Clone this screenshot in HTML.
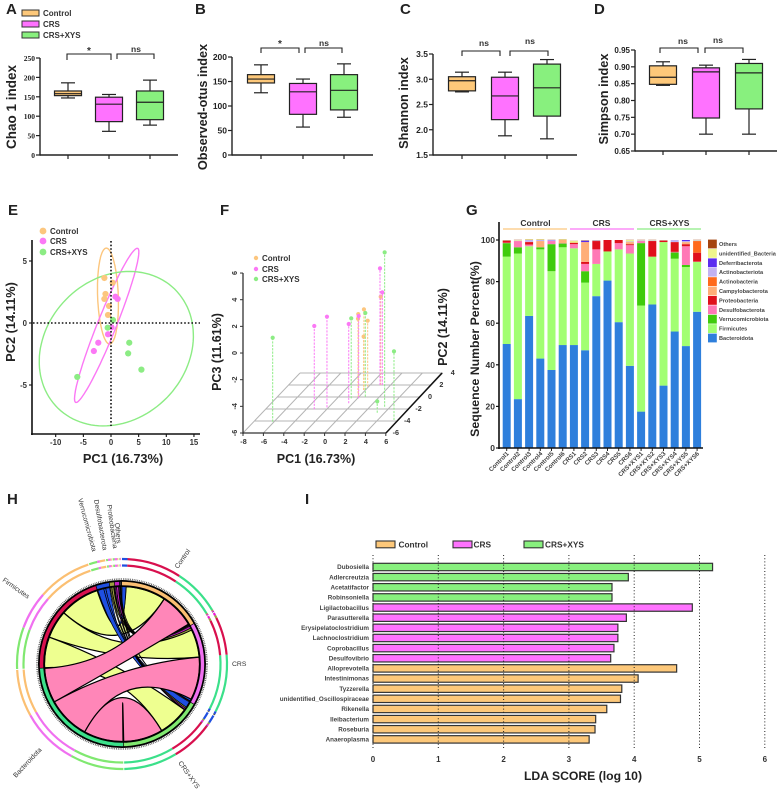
<!DOCTYPE html>
<html lang="en">
<head>
<meta charset="utf-8">
<title>Gut microbiome figure</title>
<style>
html,body{margin:0;padding:0;background:#fff;width:778px;height:791px;overflow:hidden}
svg{display:block;filter:blur(.35px)}
text{font-family:"Liberation Sans",sans-serif;font-weight:bold;fill:#222}
</style>
</head>
<body>
<svg id="fig" xmlns="http://www.w3.org/2000/svg" width="778" height="791" viewBox="0 0 778 791"></svg>
<script>
// ---------- box plot data [min, q1, median, q3, max] ----------
const boxGroups = ['Control', 'CRS', 'CRS+XYS'];
const chaoValues = [[147,153,158,165,186],[61,86,131,149,156],[77,91,136,165,193]];
const otusValues = [[127,147,155,164,184],[57,83,129,146,155],[77,92,132,164,186]];
const shannonValues = [[2.75,2.77,2.97,3.05,3.14],[1.88,2.2,2.67,3.04,3.14],[1.82,2.27,2.83,3.3,3.39]];
const simpsonValues = [[0.845,0.848,0.869,0.903,0.915],[0.70,0.748,0.885,0.897,0.905],[0.70,0.775,0.882,0.91,0.922]];
const chaoTicks = [0,50,100,150,200,250];
const otusTicks = [0,50,100,150,200];
const shannonTicks = ['1.5','2.0','2.5','3.0','3.5'];
const simpsonTicks = ['0.65','0.70','0.75','0.80','0.85','0.90','0.95'];

// ---------- PCA (PC1, PC2) ----------
const pcaControl = [[-1.2,3.63],[0.3,3.25],[-1,2.34],[-1.2,1.94],[-0.36,1.37],[-0.54,0.65]];
const pcaCRS = [[0.8,2.12],[1.2,1.94],[0.1,-0.35],[-0.54,-0.91],[-2.3,-1.59],[-3.1,-2.26]];
const pcaXYS = [[0.36,0.24],[-0.6,-0.38],[3.3,-1.59],[3.1,-2.45],[5.5,-3.76],[-6.1,-4.35]];
// confidence ellipses: centre x, centre y, axis-a dx, dy, axis-b dx, dy (data units)
const ellipseControl = [-0.55,2.17,-0.3,3.87,1.87,0];
const ellipseCRS = [-0.78,-0.19,5.6,6.21,1.57,-0.28];
const ellipseXYS = [0.96,-2.07,13.9,0.6,1.0,6.2];

// ---------- 3D PCA (PC1, PC2, PC3) ----------
const pca3dControl = [[-0.08,0.05,0.2],[-0.41,0.6,-0.4],[-0.15,1.17,0.05],[-0.09,1.72,-1.05],[-0.18,1.17,-2],[1.03,2,0.62]];
const pca3dCRS = [[-3.22,-2.05,0.25],[-2.16,-1.72,0.8],[-0.4,-1.05,-0.05],[0.11,-0.22,0.17],[0.96,2,2.75],[1.19,2,0.95]];
const pca3dXYS = [[-6.14,-4.12,0.3],[-0.62,-0.22,0],[0.61,0.05,0.28],[3.44,-1.62,5.58],[5.59,-3.83,-0.85],[3.27,-2.62,-5.15]];

// ---------- stacked bars ----------
const sampleNames = ['Control1','Control2','Control3','Control4','Control5','Control6','CRS1','CRS2','CRS3','CRS4','CRS5','CRS6','CRS+XYS1','CRS+XYS2','CRS+XYS3','CRS+XYS4','CRS+XYS5','CRS+XYS6'];
const bacteroidota = [50,23.5,63.5,43,37.5,49.5,49.5,47,73,80.5,60.5,39.5,17.5,69,30,56,49,65.5];
const firmicutes = [42,70,33.5,52.5,47.5,47,46.5,32.5,15.5,14,35,54,51,23,69,35,38,24];
const verrucomicrobiota = [6.5,3,0,1,13,1.8,0,5.5,0,0,0,0,30,0,0,3,1,0];
const desulfobacterota = [0.2,3,0.8,0,1.5,0.2,2,3.5,7,0,3,4,1,0,0,0.3,9,0.1];
const proteobacteria = [1,0,1.2,0,0,0,0.7,1,4,5.5,1.5,0.5,0,7.5,0.7,4.7,1,4.3];
const campylobacterota = [0,0,0,3,0,1.5,0,9.5,0,0,0,1,0,0,0,0,1,0];
const actinobacteria = [0,0,0.1,0,0,0,0,0,0,0,0,0,0,0,0,0,0,5.6];
const actinobacteriota = [0.1,0.2,0.9,0.5,0.4,0,0,0,0.3,0,0,0.3,0.3,0.3,0.1,1,0.5,0.3];
const deferribacterota = [0,0,0,0,0.1,0,0,0.7,0,0,0,0,0,0,0,0,0.5,0];
const unidentifiedBacteria = [0.1,0.3,0.3,0.3,0,0.3,0.8,0.2,0.1,0,0,0.7,0.2,0.2,0.1,0,0,0.2];
const othersTaxa = [0.1,0.1,0.1,0.1,0.1,0.1,0.1,0.1,0.1,0,0,0.1,0.1,0.1,0.1,0,0,0.1];
const stackNames = ['Bacteroidota','Firmicutes','Verrucomicrobiota','Desulfobacterota','Proteobacteria','Campylobacterota','Actinobacteria','Actinobacteriota','Deferribacterota','unidentified_Bacteria','Others'];
const stackSeries = [bacteroidota,firmicutes,verrucomicrobiota,desulfobacterota,proteobacteria,campylobacterota,actinobacteria,actinobacteriota,deferribacterota,unidentifiedBacteria,othersTaxa];
const stackColors = ['#2e7fdc','#a2ff72','#3fcb0c','#ff78b6','#e0101c','#ffae78','#ff6a1c','#c2b2f2','#5a2cf0','#eef58c','#a5440f'];
const percentTicks = [0,20,40,60,80,100];

// ---------- chord ----------
const chordGroups = ['Control','CRS','CRS+XYS'];
const chordTaxa = ['Bacteroidota','Firmicutes','Verrucomicrobiota','Desulfobacterota','Proteobacteria','Others'];
const flowControl = [26,30,3,0.6,0.6,0.2];
const flowCRS = [32,21,1.5,1.5,1.5,0.5];
const flowXYS = [29.5,23,4.5,1,1,0.3];

// ---------- LDA ----------
const ldaNames = ['Dubosiella','Adlercreutzia','Acetatifactor','Robinsoniella','Ligilactobacillus','Parasutterella','Erysipelatoclostridium','Lachnoclostridium','Coprobacillus','Desulfovibrio','Alloprevotella','Intestinimonas','Tyzzerella','unidentified_Oscillospiraceae','Rikenella','Ileibacterium','Roseburia','Anaeroplasma'];
const ldaScores = [5.2,3.91,3.66,3.66,4.89,3.88,3.75,3.75,3.69,3.64,4.65,4.06,3.81,3.79,3.58,3.41,3.4,3.31];
const ldaGroupIndex = [2,2,2,2,1,1,1,1,1,1,0,0,0,0,0,0,0,0];
const ldaTicks = [0,1,2,3,4,5,6];

// ---------- helpers ----------
const COL = ['#fdc87a','#ff72ff','#88f07e'];
const DOT = ['#fcc67e','#fb78f5','#8cec84'];
const svg = document.getElementById('fig');
function mk(parent, tag, attrs, name, text) {
  const e = document.createElementNS('http://www.w3.org/2000/svg', tag);
  for (const k in attrs) e.setAttribute(k, attrs[k]);
  
  
  if (text !== undefined) e.textContent = text;
  parent.appendChild(e);
  return e;
}
function panel(name) { return mk(svg, 'g', {}, name); }
function line(p, x1, y1, x2, y2, stroke, w, name, dash) {
  const a = {x1, y1, x2, y2, stroke, 'stroke-width': w};
  if (dash) a['stroke-dasharray'] = dash;
  return mk(p, 'line', a, name);
}
function txt(p, x, y, s, size, name, anchor, rot, fill, weight) {
  const a = {x, y, 'font-size': size, 'text-anchor': anchor || 'start'};
  if (rot) a.transform = 'rotate(' + rot + ' ' + x + ' ' + y + ')';
  if (fill) a.style = 'fill:' + fill + (weight ? ';font-weight:' + weight : '');
  else if (weight) a.style = 'font-weight:' + weight;
  return mk(p, 'text', a, name, s);
}
const LETTERS = [['A',6,14],['B',195,14],['C',400,14],['D',594,14],['E',8,215],['F',220,215],['G',466,215],['H',7,504],['I',305,504]];
const lg = panel('panel-letters');
LETTERS.forEach(l => txt(lg, l[1], l[2], l[0], 15, 'panel-letter-' + l[0].toLowerCase()));

// ---------- box plots ----------
function boxPanel(c) {
  const g = panel(c.name);
  const y = v => c.bottom - (v - c.min) / (c.max - c.min) * (c.bottom - c.top);
  line(g, c.left, c.top, c.left, c.bottom + .7, '#222', 1.4, 'y-axis');
  line(g, c.left, c.bottom, c.right, c.bottom, '#222', 1.4, 'x-axis');
  c.ticks.forEach(t => {
    const v = parseFloat(t);
    line(g, c.left - 4, y(v), c.left, y(v), '#222', 1.2, 'y-tick');
    const lab = txt(g, c.left - 5, y(v) + 3, String(t), c.tickSize, 'y-tick-label', 'end');
    if (c.serif) lab.style.fontFamily = '"Liberation Serif",serif';
  });
  c.centers.forEach((cx, i) => {
    line(g, cx, c.bottom, cx, c.bottom + 4, '#222', 1.2, 'x-tick');
    const d = c.data[i];
    line(g, cx, y(d[0]), cx, y(d[4]), '#222', 1.2, 'whisker-' + boxGroups[i]);
    line(g, cx - 7, y(d[0]), cx + 7, y(d[0]), '#222', 1.2, 'whisker-cap-low');
    line(g, cx - 7, y(d[4]), cx + 7, y(d[4]), '#222', 1.2, 'whisker-cap-high');
    mk(g, 'rect', {x: cx - 13.5, y: y(d[3]), width: 27, height: y(d[1]) - y(d[3]), fill: COL[i], stroke: '#222', 'stroke-width': 1.2}, 'box-' + boxGroups[i]);
    line(g, cx - 13.5, y(d[2]), cx + 13.5, y(d[2]), '#222', 1.2, 'median-' + boxGroups[i]);
  });
  c.brackets.forEach(b => {
    mk(g, 'polyline', {points: b[0] + ',' + b[3] + ' ' + b[0] + ',' + b[2] + ' ' + b[1] + ',' + b[2] + ' ' + b[1] + ',' + b[3], fill: 'none', stroke: '#222', 'stroke-width': 1.1}, 'significance-bracket');
    txt(g, b[4], b[5], b[6], b[6] === '*' ? 10 : 8.5, 'significance-label', 'middle', 0, '#333', 'bold');
  });
  txt(g, c.titleX, c.titleY, c.title, c.titleSize, 'y-axis-title', 'middle', -90);
}
boxPanel({name:'panel-a-chao1', left:40, right:178, top:58, bottom:155, min:0, max:250, ticks:chaoTicks, tickSize:7.5, serif:true, centers:[68,109,150], data:chaoValues,
  brackets:[[67,111,54,60,89,54,'*'],[117,154,54,59,136,52,'ns']], title:'Chao 1 index', titleX:16, titleY:107, titleSize:13.5});
boxPanel({name:'panel-b-observed-otus', left:232, right:373, top:57, bottom:155, min:0, max:200, ticks:otusTicks, tickSize:8.5, centers:[261,303,344], data:otusValues,
  brackets:[[261,299,48,53,280,47,'*'],[305,342,48,53,324,46,'ns']], title:'Observed-otus index', titleX:207, titleY:107, titleSize:12.7});
boxPanel({name:'panel-c-shannon', left:433, right:577, top:54, bottom:155, min:1.5, max:3.5, ticks:shannonTicks, tickSize:8.5, centers:[462,505,547], data:shannonValues,
  brackets:[[462,500,51,56,484,46,'ns'],[510,548,51,56,530,44,'ns']], title:'Shannon index', titleX:408, titleY:103, titleSize:12.8});
boxPanel({name:'panel-d-simpson', left:635, right:777, top:50, bottom:151, min:0.65, max:0.95, ticks:simpsonTicks, tickSize:8, centers:[663,706,749], data:simpsonValues,
  brackets:[[660,698,48,53,683,44,'ns'],[705,743,48,53,718,43,'ns']], title:'Simpson index', titleX:608, titleY:99, titleSize:12.8});

// Panel A legend
(function () {
  const g = panel('legend-box-plots');
  const ys = [13, 24, 35];
  boxGroups.forEach((n, i) => {
    mk(g, 'rect', {x: 22, y: ys[i] - 3, width: 17, height: 6, fill: COL[i], stroke: '#333', 'stroke-width': 1}, 'legend-swatch-' + n);
    txt(g, 43, ys[i] + 3, n, 8, 'legend-entry-' + n, 'start', 0, '#333');
  });
})();

// ---------- Panel E ----------
(function () {
  const g = panel('panel-e-pca');
  const X = v => 111 + v * 5.53, Y = v => 323 - v * 12.4;
  [ellipseControl, ellipseCRS, ellipseXYS].forEach((e, i) => {
    const pts = [];
    for (let k = 0; k <= 120; k++) {
      const t = k / 120 * 2 * Math.PI;
      pts.push(X(e[0] + e[2] * Math.cos(t) + e[4] * Math.sin(t)).toFixed(1) + ',' + Y(e[1] + e[3] * Math.cos(t) + e[5] * Math.sin(t)).toFixed(1));
    }
    mk(g, 'polygon', {points: pts.join(' '), fill: 'none', stroke: DOT[i], 'stroke-width': 1.4}, 'ellipse-' + boxGroups[i]);
  });
  [pcaControl, pcaCRS, pcaXYS].forEach((s, i) => s.forEach(p => {
    mk(g, 'circle', {cx: X(p[0]), cy: Y(p[1]), r: 3.1, fill: DOT[i]}, 'point-' + boxGroups[i]);
  }));
  line(g, 33, 323, 200, 323, '#111', 1.6, 'zero-line-horizontal', '1.6 2');
  line(g, 111, 241, 111, 426, '#111', 1.6, 'zero-line-vertical', '1.6 2');
  line(g, 32, 240, 32, 435, '#111', 1.6, 'y-axis');
  line(g, 31, 434, 200, 434, '#111', 1.6, 'x-axis');
  [-10,-5,0,5,10,15].forEach(v => {
    line(g, X(v), 434, X(v), 437, '#111', 1.1, 'x-tick');
    txt(g, X(v), 445, String(v), 7.8, 'x-tick-label', 'middle', 0, '#333');
  });
  [-5,0,5].forEach(v => {
    line(g, 29, Y(v), 32, Y(v), '#111', 1.1, 'y-tick');
    txt(g, 27, Y(v) + 3, String(v), 7.8, 'y-tick-label', 'end', 0, '#333');
  });
  txt(g, 123, 463, 'PC1 (16.73%)', 12.8, 'x-axis-title', 'middle');
  txt(g, 15, 322, 'PC2 (14.11%)', 12.8, 'y-axis-title', 'middle', -90);
  [231, 241, 252].forEach((y, i) => {
    mk(g, 'circle', {cx: 43, cy: y, r: 3.4, fill: DOT[i]}, 'legend-dot-' + boxGroups[i]);
    txt(g, 50, y + 3, boxGroups[i], 8, 'legend-entry-' + boxGroups[i], 'start', 0, '#333');
  });
})();

// ---------- Panel F ----------
(function () {
  const g = panel('panel-f-pca-3d');
  const PX = (x, y2) => 243 + (x + 8) * 10.2 + (y2 + 6) * 5.7;
  const PY = (y2, z) => 433 - (z + 6) * 13.33 - (y2 + 6) * 6;
  for (let x = -8; x <= 6; x += 2) line(g, PX(x, -6), PY(-6, -6), PX(x, 4), PY(4, -6), '#b4b4b4', 1, 'floor-grid-line');
  for (let d = -6; d <= 4; d += 2) line(g, PX(-8, d), PY(d, -6), PX(6, d), PY(d, -6), '#b4b4b4', 1, 'floor-grid-line');
  [pca3dControl, pca3dCRS, pca3dXYS].forEach((s, i) => s.forEach(p => {
    line(g, PX(p[0], p[1]), PY(p[1], -6), PX(p[0], p[1]), PY(p[1], p[2]), DOT[i], 1, 'stem-' + boxGroups[i], '2.2 1.2');
    mk(g, 'circle', {cx: PX(p[0], p[1]), cy: PY(p[1], p[2]), r: 2.1, fill: DOT[i]}, 'point-' + boxGroups[i]);
  }));
  line(g, 243, 273, 243, 434, '#333', 1.3, 'pc3-axis');
  line(g, 243, 433, 386, 433, '#333', 1.3, 'pc1-axis');
  line(g, 386, 433, 442, 373, '#111', 1.5, 'pc2-axis');
  for (let z = -6; z <= 6; z += 2) {
    line(g, 240, PY(-6, z), 243, PY(-6, z), '#333', 1, 'pc3-tick');
    txt(g, 237, PY(-6, z), String(z), 7.2, 'pc3-tick-label', 'middle', -90, '#333');
  }
  for (let x = -8; x <= 6; x += 2) {
    line(g, PX(x, -6), 433, PX(x, -6), 436, '#333', 1, 'pc1-tick');
    txt(g, PX(x, -6) + .5, 444, String(x), 7.2, 'pc1-tick-label', 'middle', 0, '#333');
  }
  for (let d = -6; d <= 4; d += 2) {
    txt(g, PX(6, d) + 10, PY(d, -6) + 2, String(d), 7.2, 'pc2-tick-label', 'middle', 0, '#333');
  }
  txt(g, 316, 463, 'PC1 (16.73%)', 12.5, 'pc1-axis-title', 'middle');
  txt(g, 221, 352, 'PC3 (11.61%)', 12.5, 'pc3-axis-title', 'middle', -90);
  txt(g, 447, 327, 'PC2 (14.11%)', 12.5, 'pc2-axis-title', 'middle', -90);
  [258, 269, 279].forEach((y, i) => {
    mk(g, 'circle', {cx: 256, cy: y, r: 2.2, fill: DOT[i]}, 'legend-dot-' + boxGroups[i]);
    txt(g, 262, y + 3, boxGroups[i], 8, 'legend-entry-' + boxGroups[i], 'start', 0, '#333');
  });
})();

// ---------- Panel G ----------
(function () {
  const g = panel('panel-g-stacked-bars');
  const Y = v => 448 - v * 2.08;
  const X = i => 506.7 + i * 11.2;
  sampleNames.forEach((n, i) => {
    let acc = 0;
    stackSeries.forEach((s, k) => {
      if (s[i] <= 0) return;
      mk(g, 'rect', {x: X(i) - 4, y: Y(acc + s[i]), width: 8, height: s[i] * 2.08, fill: stackColors[k]}, 'bar-' + n + '-' + stackNames[k]);
      acc += s[i];
    });
    line(g, X(i), 448, X(i), 451, '#222', 1, 'x-tick');
    txt(g, X(i) + 2.5, 454, n, 6.2, 'x-tick-label', 'end', -45, '#444');
  });
  line(g, 499, 222, 499, 449, '#111', 1.6, 'y-axis');
  line(g, 498, 448, 703, 448, '#111', 1.6, 'x-axis');
  percentTicks.forEach(v => {
    line(g, 496, Y(v), 499, Y(v), '#111', 1.2, 'y-tick');
    txt(g, 495, Y(v) + 3, String(v), 8.5, 'y-tick-label', 'end', 0, '#333');
  });
  txt(g, 479, 349, 'Sequence Number Percent(%)', 12.3, 'y-axis-title', 'middle', -90);
  [[503,567,535.5,'Control'],[570,634,601.5,'CRS'],[637,701,669.5,'CRS+XYS']].forEach((b, i) => {
    line(g, b[0], 229, b[1], 229, DOT[i], 1.3, 'group-line-' + b[3]);
    txt(g, b[2], 226, b[3], 8.5, 'group-label-' + b[3], 'middle', 0, '#333');
  });
  stackNames.slice().reverse().forEach((n, k) => {
    const idx = stackNames.length - 1 - k;
    const y = 244 + k * 9.4;
    mk(g, 'rect', {x: 708, y: y - 4.4, width: 8.8, height: 8.8, fill: stackColors[idx]}, 'legend-swatch-' + n);
    txt(g, 719, y + 2, n, 5.6, 'legend-entry-' + n, 'start', 0, '#444');
  });
})();

// ---------- Panel H ----------
(function () {
  const g = panel('panel-h-chord');
  const CX = 122, CY = 664;
  const P = (a, r) => { const t = a * Math.PI / 180; return [CX + r * Math.sin(t), CY - r * Math.cos(t)]; };
  const flows = [flowControl, flowCRS, flowXYS];
  // within-sector drawing order of taxa for each group
  const groupOrder = [[2,1,0,3,4,5],[4,3,1,0,2,5],[2,3,4,5,1,0]];
  const taxaColor = ['#3be08a','#d8104e','#1f4fe0','#9aa040','#f018d8','#444'];
  const ribbonColor = ['#ff86b8','#eeff90','#1f4fe0','#9aa040','#c020c0','#333'];
  const groupColor = ['#fbbf72','#f070f0','#80e870'];
  const rowSums = flows.map(f => f.reduce((a, b) => a + b, 0));
  const colSums = chordTaxa.map((_, j) => flows.reduce((a, f) => a + f[j], 0));
  const total = rowSums.reduce((a, b) => a + b, 0);
  const gap = 0.5, scale = (360 - gap * 9) / (2 * total);
  let ang = 0;
  const groupSpan = [], flowSpanG = [[],[],[]], flowSpanT = [[],[],[]], taxaSpan = [];
  rowSums.forEach((s, i) => {
    const a0 = ang;
    groupOrder[i].forEach(j => {
      const w = flows[i][j] * scale;
      flowSpanG[i][j] = [ang, ang + w];
      ang += w;
    });
    groupSpan.push([a0, ang]);
    ang += gap;
  });
  colSums.forEach((s, j) => {
    const a0 = ang;
    [2,1,0].forEach(i => {
      const w = flows[i][j] * scale;
      flowSpanT[i][j] = [ang, ang + w];
      ang += w;
    });
    taxaSpan.push([a0, ang]);
    ang += gap;
  });
  const arc = (a0, a1, r) => {
    const p0 = P(a0, r), p1 = P(a1, r);
    return 'M' + p0[0].toFixed(2) + ' ' + p0[1].toFixed(2) + 'A' + r + ' ' + r + ' 0 ' + (a1 - a0 > 180 ? 1 : 0) + ' 1 ' + p1[0].toFixed(2) + ' ' + p1[1].toFixed(2);
  };
  function ribbon(i, j) {
    const a = flowSpanG[i][j], b = flowSpanT[i][j], R = 77.5;
    const p0 = P(a[0], R), p1 = P(a[1], R), p2 = P(b[0], R), p3 = P(b[1], R);
    const d = 'M' + p0.join(' ') + 'A' + R + ' ' + R + ' 0 0 1 ' + p1.join(' ') +
      'Q' + CX + ' ' + CY + ' ' + p2.join(' ') + 'A' + R + ' ' + R + ' 0 0 1 ' + p3.join(' ') +
      'Q' + CX + ' ' + CY + ' ' + p0.join(' ') + 'Z';
    mk(g, 'path', {d: d, fill: ribbonColor[j], stroke: '#000', 'stroke-width': j < 2 ? 1.2 : .7}, 'chord-' + chordGroups[i] + '-' + chordTaxa[j]);
  }
  [1, 2, 3, 4, 5].forEach(j => [0,1,2].forEach(i => ribbon(i, j)));
  [0,1,2].forEach(i => ribbon(i, 0));
  // tick texture + black border
  mk(g, 'circle', {cx: CX, cy: CY, r: 85, fill: 'none', stroke: '#555', 'stroke-width': 1.6, 'stroke-dasharray': '.8 1'}, 'chord-tick-ring');
  mk(g, 'circle', {cx: CX, cy: CY, r: 80.5, fill: 'none', stroke: '#000', 'stroke-width': 7}, 'chord-black-ring');
  groupSpan.forEach((s, i) => mk(g, 'path', {d: arc(s[0], s[1], 80.5), fill: 'none', stroke: groupColor[i], 'stroke-width': 3.4}, 'inner-arc-' + chordGroups[i]));
  taxaSpan.forEach((s, j) => mk(g, 'path', {d: arc(s[0], s[1], 80.5), fill: 'none', stroke: j > 1 ? ribbonColor[j] : taxaColor[j], 'stroke-width': 3.4}, 'inner-arc-' + chordTaxa[j]));
  // double outer rings
  [98.5, 105].forEach(r => {
    flowSpanG.forEach((row, i) => row.forEach((sp, j) => {
      mk(g, 'path', {d: arc(sp[0], sp[1], r), fill: 'none', stroke: taxaColor[j], 'stroke-width': 2.2}, 'outer-arc-' + chordGroups[i] + '-' + chordTaxa[j]);
    }));
    flowSpanT.forEach((row, i) => row.forEach((sp, j) => {
      mk(g, 'path', {d: arc(sp[0], sp[1], r), fill: 'none', stroke: groupColor[i], 'stroke-width': 2.2}, 'outer-arc-' + chordTaxa[j] + '-' + chordGroups[i]);
    }));
  });
  const labs = [
    ['Control',178,569,-55,'start'],['CRS',232,666,0,'start'],['CRS+XYS',178,763,55,'start'],
    ['Bacteroidota',16,778,-47,'start'],['Firmicutes',2,581,35,'start'],
    ['Verrucomicrobiota',78,499,75,'start'],['Desulfobacterota',94,500,80,'start'],
    ['Proteobacteria',107,505,82,'start'],['Others',115,523,85,'start']
  ];
  labs.forEach(l => txt(g, l[1], l[2], l[0], 6.8, 'chord-label-' + l[0], l[4], l[3], '#333', 'normal'));
})();

// ---------- Panel I ----------
(function () {
  const g = panel('panel-i-lda');
  const X = v => 373 + v * 65.3;
  const Y = i => 567 + i * 10.14;
  ldaNames.forEach((n, i) => {
    mk(g, 'rect', {x: X(0), y: Y(i) - 3.7, width: X(ldaScores[i]) - X(0), height: 7.4, fill: COL[ldaGroupIndex[i]], stroke: '#333', 'stroke-width': 1.2}, 'bar-' + n);
    txt(g, 369, Y(i) + 2.2, n, 6.3, 'genus-label-' + n, 'end', 0, '#444');
  });
  ldaTicks.forEach(v => {
    line(g, X(v), 555, X(v), 750, '#222', 1, 'gridline-' + v, '1 2.2');
    txt(g, X(v), 762, String(v), 8, 'x-tick-label', 'middle', 0, '#333');
  });
  txt(g, 583, 780, 'LDA SCORE (log 10)', 12.2, 'x-axis-title', 'middle');
  [[376,398.5,'Control'],[453,473.5,'CRS'],[524,545,'CRS+XYS']].forEach((l, i) => {
    mk(g, 'rect', {x: l[0], y: 541, width: 19, height: 6.8, fill: COL[i], stroke: '#333', 'stroke-width': 1.1}, 'legend-swatch-' + l[2]);
    txt(g, l[1], 547.5, l[2], 8.3, 'legend-entry-' + l[2], 'start', 0, '#333');
  });
})();
</script>
</body>
</html>
